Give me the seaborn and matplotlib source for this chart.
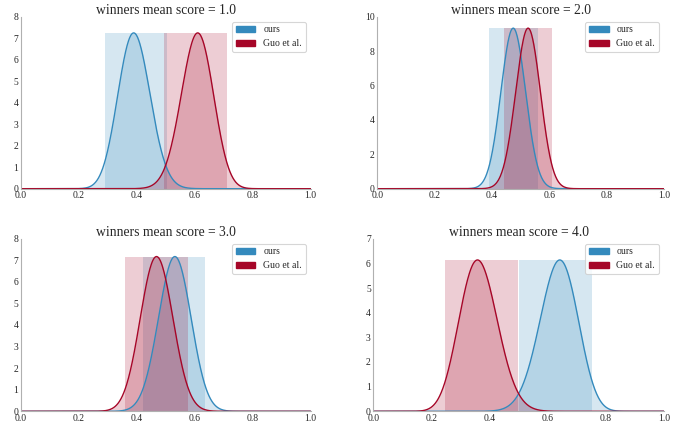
import math
import numpy as np
import pandas as pd
import matplotlib
matplotlib.use("Agg")
import matplotlib.pyplot as plt
from matplotlib.patches import Patch
import seaborn as sns

# ---- data ----
titles = ["winners mean score = 1.0", "winners mean score = 2.0",
          "winners mean score = 3.0", "winners mean score = 4.0"]
series = ["ours", "Guo et al."]
# Beta posterior parameters (a, b) per panel
ours_a = [31, 65, 43, 35]
ours_b = [48, 72, 38, 20]
guo_a = [48, 72, 38, 20]
guo_b = [31, 65, 43, 35]
# credible interval bands per panel
ours_lo = [0.291, 0.390, 0.421, 0.501]
ours_hi = [0.503, 0.559, 0.634, 0.751]
guo_lo = [0.494, 0.442, 0.360, 0.248]
guo_hi = [0.710, 0.609, 0.576, 0.497]
ymax = [8, 10, 8, 7]
ystep = [1, 2, 1, 1]
xticks = [0.0, 0.2, 0.4, 0.6, 0.8, 1.0]

colors = {"ours": "#348ABD", "Guo et al.": "#A60628"}

sns.set_style("white")
plt.rcParams["font.family"] = ["Liberation Serif", "DejaVu Serif"]

def beta_pdf(x, a, b):
    lb = math.lgamma(a) + math.lgamma(b) - math.lgamma(a + b)
    return np.exp((a - 1) * np.log(x) + (b - 1) * np.log(1 - x) - lb)

fig = plt.figure(figsize=(6.78, 4.24), dpi=100)
W, H = 678, 424
positions = [(20.7, 16.7, 310.7, 188.7), (377.3, 16.7, 664, 188.7),
             (20.7, 238.7, 310.7, 411.3), (373.3, 238.7, 664, 411.3)]

x = np.linspace(0.0005, 0.9995, 800)
for i in range(4):
    l, t, r, b = positions[i]
    ax = fig.add_axes([l / W, 1 - b / H, (r - l) / W, (b - t) / H])
    params = {"ours": (ours_a[i], ours_b[i], ours_lo[i], ours_hi[i]),
              "Guo et al.": (guo_a[i], guo_b[i], guo_lo[i], guo_hi[i])}
    dens = {}
    for s in series:
        a, bb, lo, hi = params[s]
        dens[s] = beta_pdf(x, a, bb)
    top = max(d.max() for d in dens.values())
    for s in series:
        a, bb, lo, hi = params[s]
        c = colors[s]
        df = pd.DataFrame({"x": x, "density": dens[s]})
        ax.fill_between([lo, hi], 0, top, color=c, alpha=0.2, lw=0)
        ax.fill_between(df["x"], 0, df["density"], color=c, alpha=0.2, lw=0)
        sns.lineplot(data=df, x="x", y="density", color=c, lw=1.0, ax=ax,
                     legend=False)
    ax.set_xlim(0, 1)
    ax.set_ylim(0, ymax[i])
    ax.set_xticks(xticks)
    ax.set_xticklabels([f"{v:.1f}" for v in xticks])
    yt = np.arange(0, ymax[i] + 0.001, ystep[i])
    ax.set_yticks(yt)
    ax.set_yticklabels([str(int(v)) for v in yt])
    ax.set_xlabel("")
    ax.set_ylabel("")
    ax.set_title(titles[i], fontsize=9.8, pad=2)
    ax.tick_params(axis="both", labelsize=6.9, length=1.5, width=0.8,
                   color="#222222", pad=0.3, direction="out")
    for sp in ["top", "right"]:
        ax.spines[sp].set_visible(False)
    for sp in ["left", "bottom"]:
        ax.spines[sp].set_color("#b0b0b0")
        ax.spines[sp].set_linewidth(0.8)
    handles = [Patch(facecolor=colors[s], edgecolor=colors[s]) for s in series]
    leg = ax.legend(handles, series, loc="upper right", fontsize=7,
                    frameon=True, fancybox=True, handlelength=2.0,
                    borderaxespad=0.5)
    leg.get_frame().set_edgecolor("#cccccc")
    leg.get_frame().set_linewidth(0.8)

fig.savefig("out.png", dpi=100)
